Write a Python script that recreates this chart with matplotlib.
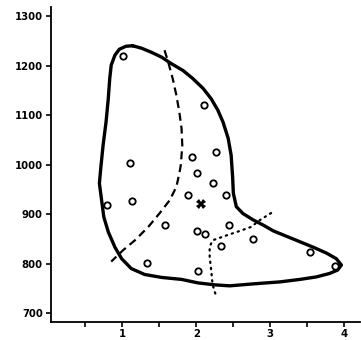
import numpy as np
import matplotlib
matplotlib.use('Agg')
import matplotlib.pyplot as plt

# ---- data ----
pts_x = [1.01, 2.11, 1.10, 1.94, 2.26, 2.01, 2.22, 1.89, 2.40, 0.79, 1.13,
         1.57, 2.44, 2.01, 2.12, 2.77, 2.33, 3.54, 1.33, 3.87, 2.02]
pts_y = [1219, 1120, 1004, 1015, 1025, 983, 962, 938, 938, 919, 926,
         878, 877, 865, 859, 849, 835, 824, 801, 796, 785]
centre_x = [2.06]
centre_y = [921]

# closed outline (clockwise from top)
outline_x = [1.14, 1.26, 1.39, 1.53, 1.66, 1.82, 1.95, 2.09, 2.20, 2.29,
             2.36, 2.43, 2.47, 2.49, 2.50, 2.54, 2.63, 2.77, 2.90, 3.04,
             3.22, 3.40, 3.58, 3.76, 3.89, 3.96, 3.91, 3.80, 3.62, 3.40,
             3.13, 2.77, 2.45, 2.25, 2.02, 1.80, 1.53, 1.30, 1.12, 0.99,
             0.90, 0.81, 0.75, 0.72, 0.69, 0.71, 0.74, 0.78, 0.81, 0.83,
             0.85, 0.90, 0.96, 1.05, 1.14]
outline_y = [1240, 1235, 1227, 1217, 1204, 1190, 1174, 1154, 1133, 1110,
             1086, 1053, 1019, 975, 942, 915, 901, 888, 878, 866,
             855, 844, 833, 821, 810, 797, 787, 780, 773, 768,
             763, 759, 755, 757, 761, 768, 772, 778, 790, 810,
             833, 864, 894, 928, 962, 995, 1039, 1086, 1133, 1174,
             1201, 1221, 1233, 1239, 1240]

# dashed boundary
dash_x = [1.57, 1.62, 1.68, 1.73, 1.77, 1.80, 1.81, 1.79, 1.77, 1.73,
          1.64, 1.50, 1.35, 1.17, 1.01, 0.85]
dash_y = [1231, 1207, 1174, 1140, 1106, 1073, 1039, 999, 982, 955,
          928, 901, 874, 847, 827, 804]

# dotted boundary
dot_x = [3.01, 2.86, 2.74, 2.59, 2.41, 2.22, 2.18, 2.18, 2.20, 2.22, 2.27]
dot_y = [902, 888, 874, 866, 857, 847, 834, 814, 787, 757, 733]

x_ticks = [1, 2, 3, 4]
x_minor = [0.5, 1.5, 2.5, 3.5]
y_ticks = [700, 800, 900, 1000, 1100, 1200, 1300]

fig = plt.figure(figsize=(3.61, 3.40), dpi=100)
ax = fig.add_axes([0.140, 0.053, 0.857, 0.926])

ax.plot(outline_x, outline_y, color='black', lw=2.4,
        solid_joinstyle='round', solid_capstyle='round')
ax.plot(dash_x, dash_y, color='black', lw=1.6, dashes=(3.6, 2.2))
ax.plot(dot_x, dot_y, color='black', lw=1.6, dashes=(0.6, 2.2),
        dash_capstyle='round')
ax.plot(pts_x, pts_y, 'o', ms=4.6, mfc='white', mec='black', mew=1.3)
ax.plot(centre_x, centre_y, 'X', ms=7, color='black', mew=0)

ax.set_xlim(0.03, 4.21)
ax.set_ylim(682, 1318)
ax.set_xticks(x_ticks)
ax.set_xticks(x_minor, minor=True)
ax.set_yticks(y_ticks)
ax.set_xticklabels([str(v) for v in x_ticks])
ax.set_yticklabels([str(v) for v in y_ticks])

for s in ['top', 'right']:
    ax.spines[s].set_visible(False)
for s in ['left', 'bottom']:
    ax.spines[s].set_linewidth(1.3)

ax.tick_params(axis='both', which='both', direction='out', length=3.5,
               width=1.2, labelsize=7.3)
ax.tick_params(axis='y', pad=2)
ax.tick_params(axis='x', pad=1.5)
for lab in ax.get_xticklabels() + ax.get_yticklabels():
    lab.set_fontweight('bold')

fig.savefig('out.png', dpi=100)
